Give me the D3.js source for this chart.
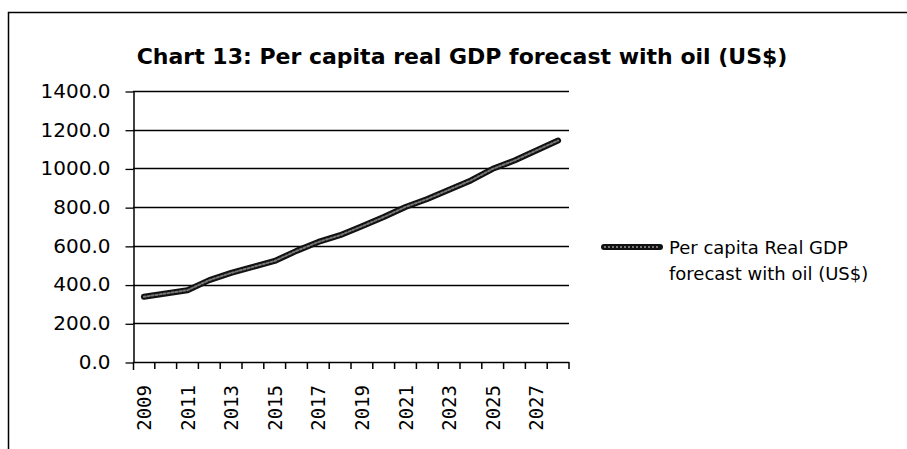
<!DOCTYPE html>
<html>
<head>
<meta charset="utf-8">
<script src="https://cdn.jsdelivr.net/npm/d3@7"></script>
<style>
  body { margin: 0; background: #fff; }
  svg { display: block; }
</style>
</head>
<body>
<div id="chart"></div>
<script>
const years = [2009, 2010, 2011, 2012, 2013, 2014, 2015, 2016, 2017, 2018,
               2019, 2020, 2021, 2022, 2023, 2024, 2025, 2026, 2027, 2028];
const gdpWithOil = [337, 354, 371, 423, 460, 491, 522, 574, 620, 655,
                    701, 749, 801, 842, 890, 938, 998, 1041, 1093, 1144];
const yTicks = [0, 200, 400, 600, 800, 1000, 1200, 1400];
const xLabels = [2009, 2011, 2013, 2015, 2017, 2019, 2021, 2023, 2025, 2027];
const chartTitle = "Chart 13: Per capita real GDP forecast with oil (US$)";
const legendLines = ["Per capita Real GDP", "forecast with  oil (US$)"];

const width = 907, height = 449;

const svg = d3.select("#chart").append("svg")
    .attr("width", width)
    .attr("height", height);

// outer frame (only top and left show in the picture)
svg.append("path")
    .attr("d", `M8.5,${height} V12.5 H${width}`)
    .attr("fill", "none")
    .attr("stroke", "#000")
    .attr("stroke-width", 1.5);

svg.append("text")
    .attr("x", 462)
    .attr("y", 64)
    .attr("text-anchor", "middle")
    .attr("font-family", "DejaVu Sans")
    .attr("font-weight", "bold")
    .attr("font-size", 22)
    .text(chartTitle);

const x = d3.scaleBand().domain(years).range([133, 569]).padding(0);
const y = d3.scaleLinear().domain([0, 1400]).range([362, 91]);

// gridlines
svg.append("g")
    .selectAll("line")
    .data(yTicks.filter(d => d > 0))
    .join("line")
    .attr("x1", 133).attr("x2", 569)
    .attr("y1", d => Math.round(y(d)) + 0.5)
    .attr("y2", d => Math.round(y(d)) + 0.5)
    .attr("stroke", "#000")
    .attr("stroke-width", 1.3);

// y axis
const yAxis = svg.append("g")
    .attr("transform", "translate(133.5,0)")
    .call(d3.axisLeft(y).tickValues(yTicks).tickFormat(d3.format(".1f")).tickSize(8).tickSizeOuter(0));
yAxis.select(".domain").attr("stroke-width", 1.5);
yAxis.selectAll(".tick line").attr("stroke-width", 1.3)
    .attr("transform", "translate(0,0.5)");
yAxis.selectAll(".tick text")
    .attr("font-family", "DejaVu Sans")
    .attr("font-size", 20)
    .attr("fill", "#000")
    .attr("x", -23);

// x axis baseline and boundary ticks
const xg = svg.append("g");
xg.append("line")
    .attr("x1", 133).attr("x2", 569)
    .attr("y1", y(0) + 0.5).attr("y2", y(0) + 0.5)
    .attr("stroke", "#000").attr("stroke-width", 1.5);
xg.append("line")
    .attr("x1", 133.5).attr("x2", 133.5)
    .attr("y1", y(0)).attr("y2", y(0) + 8)
    .attr("stroke", "#000").attr("stroke-width", 1.5);
xg.selectAll("line.bt")
    .data(years)
    .join("line")
    .attr("class", "bt")
    .attr("x1", d => x(d) + x.bandwidth())
    .attr("x2", d => x(d) + x.bandwidth())
    .attr("y1", y(0))
    .attr("y2", y(0) + 7)
    .attr("stroke", "#000")
    .attr("stroke-width", 1.5);

// x labels
xg.selectAll("text")
    .data(xLabels)
    .join("text")
    .attr("transform", d => `translate(${x(d) + x.bandwidth() / 2 + 7},385) rotate(-90)`)
    .attr("text-anchor", "end")
    .attr("font-family", "DejaVu Sans Mono")
    .attr("font-size", 19)
    .text(d => d);

// series line
const line = d3.line()
    .x((d, i) => x(years[i]) + x.bandwidth() / 2)
    .y(d => y(d));

svg.append("path")
    .datum(gdpWithOil)
    .attr("d", line)
    .attr("fill", "none")
    .attr("stroke", "#111")
    .attr("stroke-width", 6)
    .attr("stroke-linecap", "round")
    .attr("stroke-linejoin", "round");
svg.append("path")
    .datum(gdpWithOil)
    .attr("d", line)
    .attr("fill", "none")
    .attr("stroke", "#777")
    .attr("stroke-width", 2)
    .attr("stroke-dasharray", "2,2")
    .attr("stroke-linecap", "round");

// legend
const lg = svg.append("g");
lg.append("line")
    .attr("x1", 604).attr("x2", 660)
    .attr("y1", 247).attr("y2", 247)
    .attr("stroke", "#111").attr("stroke-width", 6)
    .attr("stroke-linecap", "round");
lg.append("line")
    .attr("x1", 604).attr("x2", 660)
    .attr("y1", 247).attr("y2", 247)
    .attr("stroke", "#777").attr("stroke-width", 2)
    .attr("stroke-dasharray", "2,2");
lg.selectAll("text")
    .data(legendLines)
    .join("text")
    .attr("x", 669)
    .attr("y", (d, i) => 254 + i * 26)
    .attr("font-family", "DejaVu Sans")
    .attr("font-size", 18)
    .text(d => d);
</script>
</body>
</html>
